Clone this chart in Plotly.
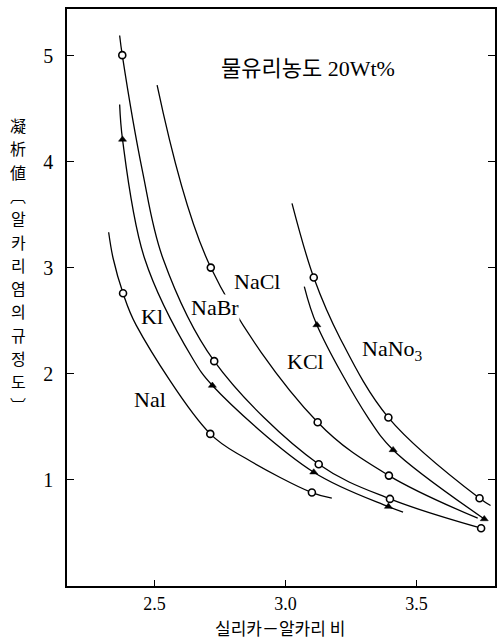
import plotly.graph_objects as go

# ---------------- data ----------------
# smooth curve paths (start, intermediate, measured points, end)
nai_line_x = [2.325, 2.342, 2.380, 2.430, 2.713, 2.848, 3.101, 3.177]
nai_line_y = [3.335, 3.09, 2.76, 2.46, 1.434, 1.204, 0.881, 0.828]
nai_pts_x = [2.380, 2.713, 3.101]
nai_pts_y = [2.76, 1.434, 0.881]

ki_line_x = [2.367, 2.378, 2.462, 2.645, 2.721, 3.108, 3.393, 3.449]
ki_line_y = [4.54, 4.21, 3.09, 2.147, 1.89, 1.073, 0.749, 0.696]
ki_pts_x = [2.378, 2.721, 3.108, 3.393]
ki_pts_y = [4.21, 1.89, 1.073, 0.749]

nabr_line_x = [2.367, 2.377, 2.455, 2.532, 2.728, 3.127, 3.399, 3.747]
nabr_line_y = [5.19, 5.005, 3.90, 3.09, 2.12, 1.148, 0.821, 0.545]
nabr_pts_x = [2.377, 2.728, 3.127, 3.399, 3.747]
nabr_pts_y = [5.005, 2.12, 1.148, 0.821, 0.545]

nacl_line_x = [2.510, 2.715, 3.123, 3.395, 3.734]
nacl_line_y = [4.723, 3.002, 1.544, 1.041, 0.639]
nacl_pts_x = [2.715, 3.123, 3.395]
nacl_pts_y = [3.002, 1.544, 1.041]

kcl_line_x = [3.072, 3.120, 3.317, 3.411, 3.759]
kcl_line_y = [2.823, 2.461, 1.58, 1.283, 0.632]
kcl_pts_x = [3.120, 3.411, 3.759]
kcl_pts_y = [2.461, 1.283, 0.632]

nano3_line_x = [3.025, 3.108, 3.209, 3.393, 3.741, 3.783]
nano3_line_y = [3.608, 2.908, 2.334, 1.588, 0.827, 0.759]
nano3_pts_x = [3.108, 3.393, 3.741]
nano3_pts_y = [2.908, 1.588, 0.827]

x_ticks = [2.5, 3.0, 3.5]
x_tick_labels = ["2.5", "3.0", "3.5"]
y_ticks = [1, 2, 3, 4, 5]
y_tick_labels = ["1", "2", "3", "4", "5"]

y_title_chars = ["凝", "析", "値", "︹", "알", "카", "리", "염", "의", "규", "정", "도", "︺"]
x_title = "실리카－알카리 비"
note = "물유리농도 20Wt%"

# ---------------- figure ----------------
SERIF = "Liberation Serif, Times New Roman, Noto Sans CJK KR, serif"
LINE = dict(color="black", width=1.3, shape="spline", smoothing=1.0)
CIRCLE = dict(symbol="circle", size=7, color="white", line=dict(color="black", width=1.6))
TRI = dict(symbol="triangle-up", size=7, color="black", line=dict(color="black", width=0.5))

fig = go.Figure()
series = [
    (nai_line_x, nai_line_y, nai_pts_x, nai_pts_y, CIRCLE),
    (ki_line_x, ki_line_y, ki_pts_x, ki_pts_y, TRI),
    (nabr_line_x, nabr_line_y, nabr_pts_x, nabr_pts_y, CIRCLE),
    (nacl_line_x, nacl_line_y, nacl_pts_x, nacl_pts_y, CIRCLE),
    (kcl_line_x, kcl_line_y, kcl_pts_x, kcl_pts_y, TRI),
    (nano3_line_x, nano3_line_y, nano3_pts_x, nano3_pts_y, CIRCLE),
]
for lx, ly, px, py, mk in series:
    fig.add_trace(go.Scatter(x=lx, y=ly, mode="lines", line=LINE,
                             hoverinfo="skip", showlegend=False))
for lx, ly, px, py, mk in series:
    fig.add_trace(go.Scatter(x=px, y=py, mode="markers", marker=mk,
                             showlegend=False))

lab_font = dict(family=SERIF, size=22, color="black")
labels = [
    ("NaCl", 2.891, 2.873, False),
    ("NaBr", 2.732, 2.628, True),
    ("Kl", 2.489, 2.543, False),
    ("Nal", 2.481, 1.761, False),
    ("KCl", 3.077, 2.119, False),
    ("NaNo<sub>3</sub>", 3.408, 2.223, False),
]
for txt, lx, ly, bg in labels:
    fig.add_annotation(x=lx, y=ly, xref="x", yref="y", text=txt, showarrow=False,
                       font=lab_font, bgcolor="white" if bg else None,
                       borderpad=0, xanchor="center", yanchor="middle")

fig.add_annotation(x=3.085, y=4.88, xref="x", yref="y", text=note, showarrow=False,
                   font=dict(family=SERIF, size=22, color="black"))

# vertical y-axis title, one character per line
bottom_px, plot_h = 586, 577
for i, ch in enumerate(y_title_chars):
    py = 125 + i * 23.3
    fig.add_annotation(x=-0.114, y=(bottom_px - py) / plot_h, xref="paper", yref="paper",
                       text=ch, showarrow=False,
                       font=dict(family="Noto Sans CJK KR, Noto Sans CJK JP", size=16, color="black"),
                       xanchor="center", yanchor="middle")

# x-axis title
fig.add_annotation(x=0.497, y=(bottom_px - 641) / plot_h, xref="paper", yref="paper",
                   text=x_title, showarrow=False,
                   font=dict(family="Noto Sans CJK KR", size=17, color="black"),
                   xanchor="center", yanchor="bottom", borderpad=0)

fig.update_layout(
    width=499, height=642,
    margin=dict(l=67, r=2, t=9, b=56),
    paper_bgcolor="white", plot_bgcolor="white",
    font=dict(family=SERIF, color="black"),
    xaxis=dict(range=[2.166, 3.80], tickvals=x_ticks, ticktext=x_tick_labels,
               ticks="inside", ticklen=6, tickcolor="black", tickwidth=1.2,
               showline=True, linecolor="black", linewidth=1.6, mirror=True,
               showgrid=False, zeroline=False,
               tickfont=dict(family=SERIF, size=18, color="black"),
               ticklabelstandoff=1),
    yaxis=dict(range=[0.0, 5.44], tickvals=y_ticks, ticktext=y_tick_labels,
               ticks="inside", ticklen=7, tickcolor="black", tickwidth=1.2,
               showline=True, linecolor="black", linewidth=1.6, mirror="ticks",
               showgrid=False, zeroline=False,
               tickfont=dict(family=SERIF, size=20, color="black"),
               ticklabelstandoff=8),
)

fig.write_html("out.html")
